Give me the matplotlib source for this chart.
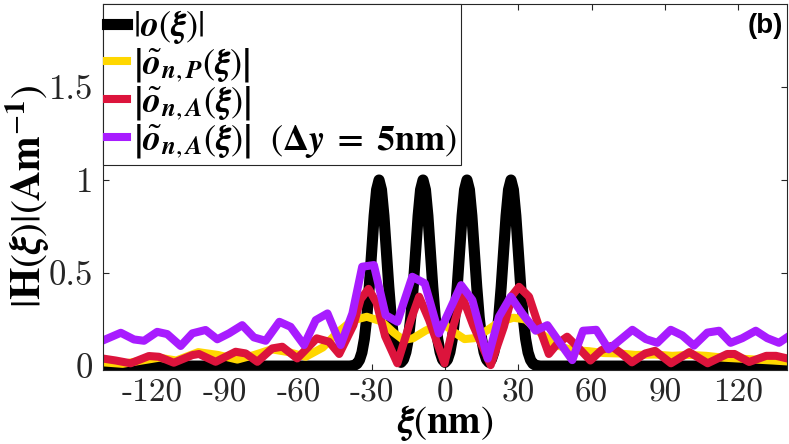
import matplotlib
matplotlib.use("Agg")
import matplotlib.pyplot as plt
import numpy as np

# |o(xi)| : four narrow peaks, zero elsewhere
black_x = [-140] + list(range(-40, 41)) + [140]
black_y = [0,
           0, 0, 0.002, 0.005, 0.013, 0.033, 0.073, 0.146, 0.263, 0.426,
           0.618, 0.808, 0.948, 1.0, 0.948, 0.808, 0.618, 0.426, 0.263, 0.146,
           0.075, 0.035, 0.02, 0.035, 0.075, 0.146, 0.263, 0.426, 0.618, 0.808,
           0.948, 1.0, 0.948, 0.808, 0.618, 0.426, 0.263, 0.146, 0.075, 0.035,
           0.02,
           0.035, 0.075, 0.146, 0.263, 0.426, 0.618, 0.808, 0.948, 1.0, 0.948,
           0.808, 0.618, 0.426, 0.263, 0.146, 0.075, 0.035, 0.02, 0.035, 0.075,
           0.146, 0.263, 0.426, 0.618, 0.808, 0.948, 1.0, 0.948, 0.808, 0.618,
           0.426, 0.263, 0.146, 0.073, 0.033, 0.013, 0.005, 0.002, 0, 0,
           0]

# |o~_{n,P}(xi)|
yellow_x = [-140, -132, -124, -117, -110, -101, -93, -85, -78, -71, -64, -57,
            -50, -44, -38, -32, -26, -21, -17, -13, -8, -4, 0, 4, 8, 12, 17,
            22, 28, 33, 39, 45, 52, 59, 65, 71, 78, 86, 93, 100, 107, 114, 121,
            127, 134, 140]
yellow_y = [0.02, 0.012, 0.03, 0.045, 0.03, 0.075, 0.06, 0.035, 0.06, 0.09,
            0.075, 0.05, 0.1, 0.18, 0.245, 0.265, 0.24, 0.18, 0.14, 0.15, 0.19,
            0.215, 0.22, 0.18, 0.145, 0.15, 0.19, 0.235, 0.26, 0.25, 0.18,
            0.115, 0.086, 0.08, 0.07, 0.068, 0.06, 0.062, 0.055, 0.06, 0.055,
            0.045, 0.04, 0.035, 0.03, 0.025]

# |o~_{n,A}(xi)|
red_x = [-140.3, -134.8, -128.7, -121.2, -117.1, -111.0, -103.4, -100.7, -93.9,
         -85.7, -81.6, -76.8, -70.7, -66.6, -60.5, -52.5, -47.5, -43.3, -37.5,
         -34.5, -31.3, -28.0, -24.5, -19.5, -14.0, -10.6, -6.5, -0.2, 3.5, 7.1,
         11.5, 18.7, 24.1, 27.5, 30.3, 34.4, 38.5, 42.5, 46.0, 50.0, 54.5, 59.5,
         64.0, 68.0, 72.0, 76.5, 82.0, 86.0, 92.5, 100.0, 107.5, 115.5, 118.5,
         124.5, 131.5, 135.5, 140.1]
red_y = [0.041, 0.030, 0.015, 0.054, 0.050, 0.018, 0.059, 0.065, 0.023, 0.077,
         0.068, 0.023, 0.095, 0.104, 0.041, 0.149, 0.131, 0.065, 0.22, 0.36,
         0.415, 0.34, 0.16, 0.015, 0.247, 0.373, 0.247, 0.015, 0.22, 0.373,
         0.22, 0.005, 0.211, 0.38, 0.426, 0.373, 0.211, 0.065, 0.12, 0.158,
         0.10, 0.03, 0.085, 0.108, 0.07, 0.02, 0.068, 0.082, 0.015, 0.075,
         0.015, 0.065, 0.065, 0.022, 0.055, 0.055, 0.041]

# |o~_{n,A}(xi)| with dy = 5 nm
purple_x = [-140.3, -132.7, -127.3, -123.2, -117.8, -113.7, -108.2, -103.4,
            -98.0, -93.2, -88.4, -83.0, -78.2, -73.4, -67.8, -63.2, -57.7,
            -52.9, -48.1, -42.7, -37.9, -33.9, -29.1, -24.3, -19.5, -13.4,
            -8.3, -2.5, 6.6, 11.2, 17.5, 22.1, 26.9, 31.6, 37.1, 41.9, 46.7,
            52.1, 56.5, 61.9, 67.0, 76.7, 82.2, 86.9, 92.4, 97.1, 101.9, 107.4,
            112.2, 116.9, 121.7, 127.2, 131.9, 136.7, 140.1]
purple_y = [0.136, 0.179, 0.143, 0.136, 0.184, 0.172, 0.108, 0.176, 0.194,
            0.144, 0.176, 0.220, 0.154, 0.136, 0.238, 0.211, 0.113, 0.247,
            0.283, 0.113, 0.283, 0.534, 0.543, 0.274, 0.238, 0.480, 0.445,
            0.175, 0.435, 0.355, 0.04, 0.265, 0.373, 0.283, 0.19, 0.22, 0.131,
            0.032, 0.19, 0.195, 0.09, 0.195, 0.145, 0.125, 0.195, 0.165, 0.11,
            0.18, 0.19, 0.125, 0.15, 0.19, 0.15, 0.125, 0.155]

x_ticks = [-120, -90, -60, -30, 0, 30, 60, 90, 120]
x_tick_labels = ['-120', '-90', '-60', '-30', '0', '30', '60', '90', '120']
y_ticks = [0, 0.5, 1, 1.5]
y_tick_labels = ['0', '0.5', '1', '1.5']

labels = [r'$|\boldsymbol{o}(\boldsymbol{\xi})|$',
          r'$\left|\tilde{\boldsymbol{o}}_{\boldsymbol{n,P}}(\boldsymbol{\xi})\right|$',
          r'$\left|\tilde{\boldsymbol{o}}_{\boldsymbol{n,A}}(\boldsymbol{\xi})\right|$',
          r'$\left|\tilde{\boldsymbol{o}}_{\boldsymbol{n,A}}(\boldsymbol{\xi})\right|\ \ '
          r'(\mathbf{\Delta}\boldsymbol{y}\;\mathbf{=}\;\mathbf{5nm})$']


def create_plot():
    plt.rcParams['mathtext.fontset'] = 'stix'
    fig = plt.figure(figsize=(7.89, 4.44), dpi=100)
    ax = fig.add_axes([0.1305, 0.1667, 0.867, 0.8243])
    axc = '#262626'

    ax.plot(black_x, black_y, color='black', lw=8, solid_joinstyle='round',
            label=labels[0])
    ax.plot(yellow_x, yellow_y, color='#FFD700', lw=5.8,
            solid_joinstyle='round', label=labels[1])
    ax.plot(red_x, red_y, color='#DC143C', lw=5.8, solid_joinstyle='round',
            label=labels[2])
    ax.plot(purple_x, purple_y, color='#A81CFF', lw=5.8,
            solid_joinstyle='round', label=labels[3])

    ax.set_xlim(-140, 140)
    ax.set_ylim(-0.021, 1.946)
    ax.set_xticks(x_ticks)
    ax.set_xticklabels(x_tick_labels, fontfamily='cmr10', fontsize=24)
    ax.set_yticks(y_ticks)
    ax.set_yticklabels(y_tick_labels, fontfamily='cmr10', fontsize=25)
    ax.tick_params(direction='in', length=4.5, width=0.8, top=True,
                   right=True, colors=axc)
    ax.tick_params(axis='x', pad=6)
    ax.tick_params(axis='y', pad=7)
    for sp in ax.spines.values():
        sp.set_color(axc)
        sp.set_linewidth(0.8)

    ax.set_xlabel(r'$\boldsymbol{\xi}(\mathbf{nm})$', fontsize=28,
                  va='top')
    ax.xaxis.set_label_coords(0.5, -0.09)
    ax.set_ylabel(r'$|\mathbf{H}(\boldsymbol{\xi})|(\mathbf{Am}^{-\mathbf{1}})$',
                  fontsize=30)
    ax.yaxis.set_label_coords(-0.074, 0.475)

    ax.text(0.994, 0.975, '(b)', transform=ax.transAxes, ha='right',
            va='top', fontsize=20, fontweight='bold', family='Liberation Sans')

    leg = ax.legend(loc='upper left', borderaxespad=0, fontsize=26,
                    handlelength=0.55, handletextpad=0.15, labelspacing=0.0,
                    borderpad=0.12, fancybox=False, framealpha=1,
                    edgecolor=axc)
    leg.get_frame().set_linewidth(0.8)

    fig.savefig('out.png', dpi=100)


if __name__ == "__main__":
    create_plot()
